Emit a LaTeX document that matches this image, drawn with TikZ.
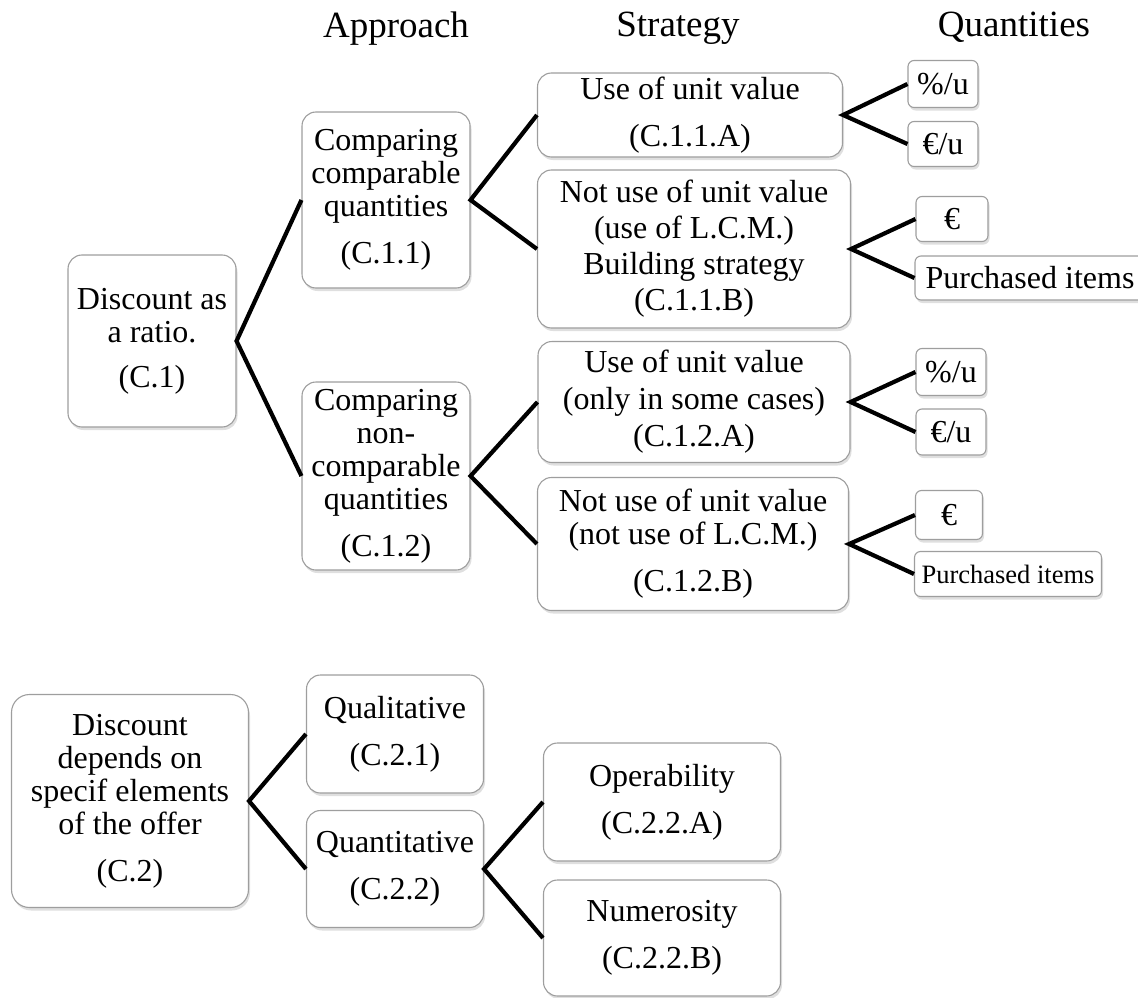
\documentclass[tikz,border=0pt]{standalone}
\usepackage{fontspec}
\setmainfont{Liberation Serif}
\usetikzlibrary{shadows}

\tikzset{
  box/.style={draw=black!38, line width=1.1pt, fill=white, rounded corners=14pt, align=center, inner sep=0pt,
    font=\fontsize{32}{33}\selectfont, drop shadow={shadow xshift=1.5pt, shadow yshift=-3pt, opacity=0.25}},
  qbox/.style={box, rounded corners=6pt},
  head/.style={font=\fontsize{37}{40}\selectfont, anchor=base},
  branch/.style={line width=4.2pt}
}

\begin{document}
\begin{tikzpicture}[x=1pt, y=-1pt]
\useasboundingbox (0,0) rectangle (1138,998);
\node[head] (approach) at (396,38) {Approach};
\node[head] (strategy) at (678,37) {Strategy};
\node[head] (quantities) at (1014,37) {Quantities};
% first tree
\node[box, minimum width=168pt, minimum height=172pt] (c1) at (152,341) {Discount as\\ a ratio.\\[12pt] (C.1)};
\node[box, minimum width=168pt, minimum height=176pt] (c11) at (386,200) {Comparing\\ comparable\\ quantities\\[14pt] (C.1.1)};
\node[box, minimum width=168pt, minimum height=188pt] (c12) at (386,476) {Comparing\\ non-\\ comparable\\ quantities\\[14pt] (C.1.2)};
\node[box, minimum width=305pt, minimum height=84pt] (c11a) at (690,115) {Use of unit value\\[14pt] (C.1.1.A)};
\node[box, minimum width=313pt, minimum height=158pt] (c11b) at (694,249) {Not use of unit value\\[3pt] (use of L.C.M.)\\[3pt] Building strategy\\[3pt] (C.1.1.B)};
\node[box, minimum width=312pt, minimum height=121pt] (c12a) at (694,402) {Use of unit value\\[4pt] (only in some cases)\\[4pt] (C.1.2.A)};
\node[box, minimum width=311pt, minimum height=133pt] (c12b) at (693,544) {Not use of unit value\\ (not use of L.C.M.)\\[14pt] (C.1.2.B)};
\node[qbox, minimum width=70pt, minimum height=47pt] (q1) at (943,84) {\%/u};
\node[qbox, minimum width=70pt, minimum height=45pt] (q2) at (943,144) {€/u};
\node[qbox, minimum width=72pt, minimum height=45pt] (q3) at (952,219) {€};
\node[qbox, minimum width=230pt, minimum height=44pt] (q4) at (1030,278) {Purchased items};
\node[qbox, minimum width=70pt, minimum height=47pt] (q5) at (951,372) {\%/u};
\node[qbox, minimum width=70pt, minimum height=46pt] (q6) at (951,432) {€/u};
\node[qbox, minimum width=67pt, minimum height=49pt] (q7) at (949,515) {€};
\node[qbox, minimum width=187pt, minimum height=45pt, font=\fontsize{26.5}{28}\selectfont] (q8) at (1008,574) {Purchased items};
\draw[branch] (c11.west) -- (c1.east) -- (c12.west);
\draw[branch] (c11a.west) -- (c11.east) -- (c11b.west);
\draw[branch] (c12a.west) -- (c12.east) -- (c12b.west);
\draw[branch] (q1.west) -- (c11a.east) -- (q2.west);
\draw[branch] (q3.west) -- (c11b.east) -- (q4.west);
\draw[branch] (q5.west) -- (c12a.east) -- (q6.west);
\draw[branch] (q7.west) -- (c12b.east) -- (q8.west);
% second tree
\node[box, rounded corners=18pt, minimum width=237pt, minimum height=213pt] (c2) at (130,801) {Discount\\ depends on\\ specif elements\\ of the offer\\[14pt] (C.2)};
\node[box, minimum width=177pt, minimum height=118pt] (c21) at (395,734) {Qualitative\\[14pt] (C.2.1)};
\node[box, minimum width=177pt, minimum height=117pt] (c22) at (395,869) {Quantitative\\[14pt] (C.2.2)};
\node[box, minimum width=237pt, minimum height=118pt] (c22a) at (662,802) {Operability\\[14pt] (C.2.2.A)};
\node[box, minimum width=237pt, minimum height=116pt] (c22b) at (662,938) {Numerosity\\[14pt] (C.2.2.B)};
\draw[branch] (c21.west) -- (c2.east) -- (c22.west);
\draw[branch] (c22a.west) -- (c22.east) -- (c22b.west);
\end{tikzpicture}
\end{document}
